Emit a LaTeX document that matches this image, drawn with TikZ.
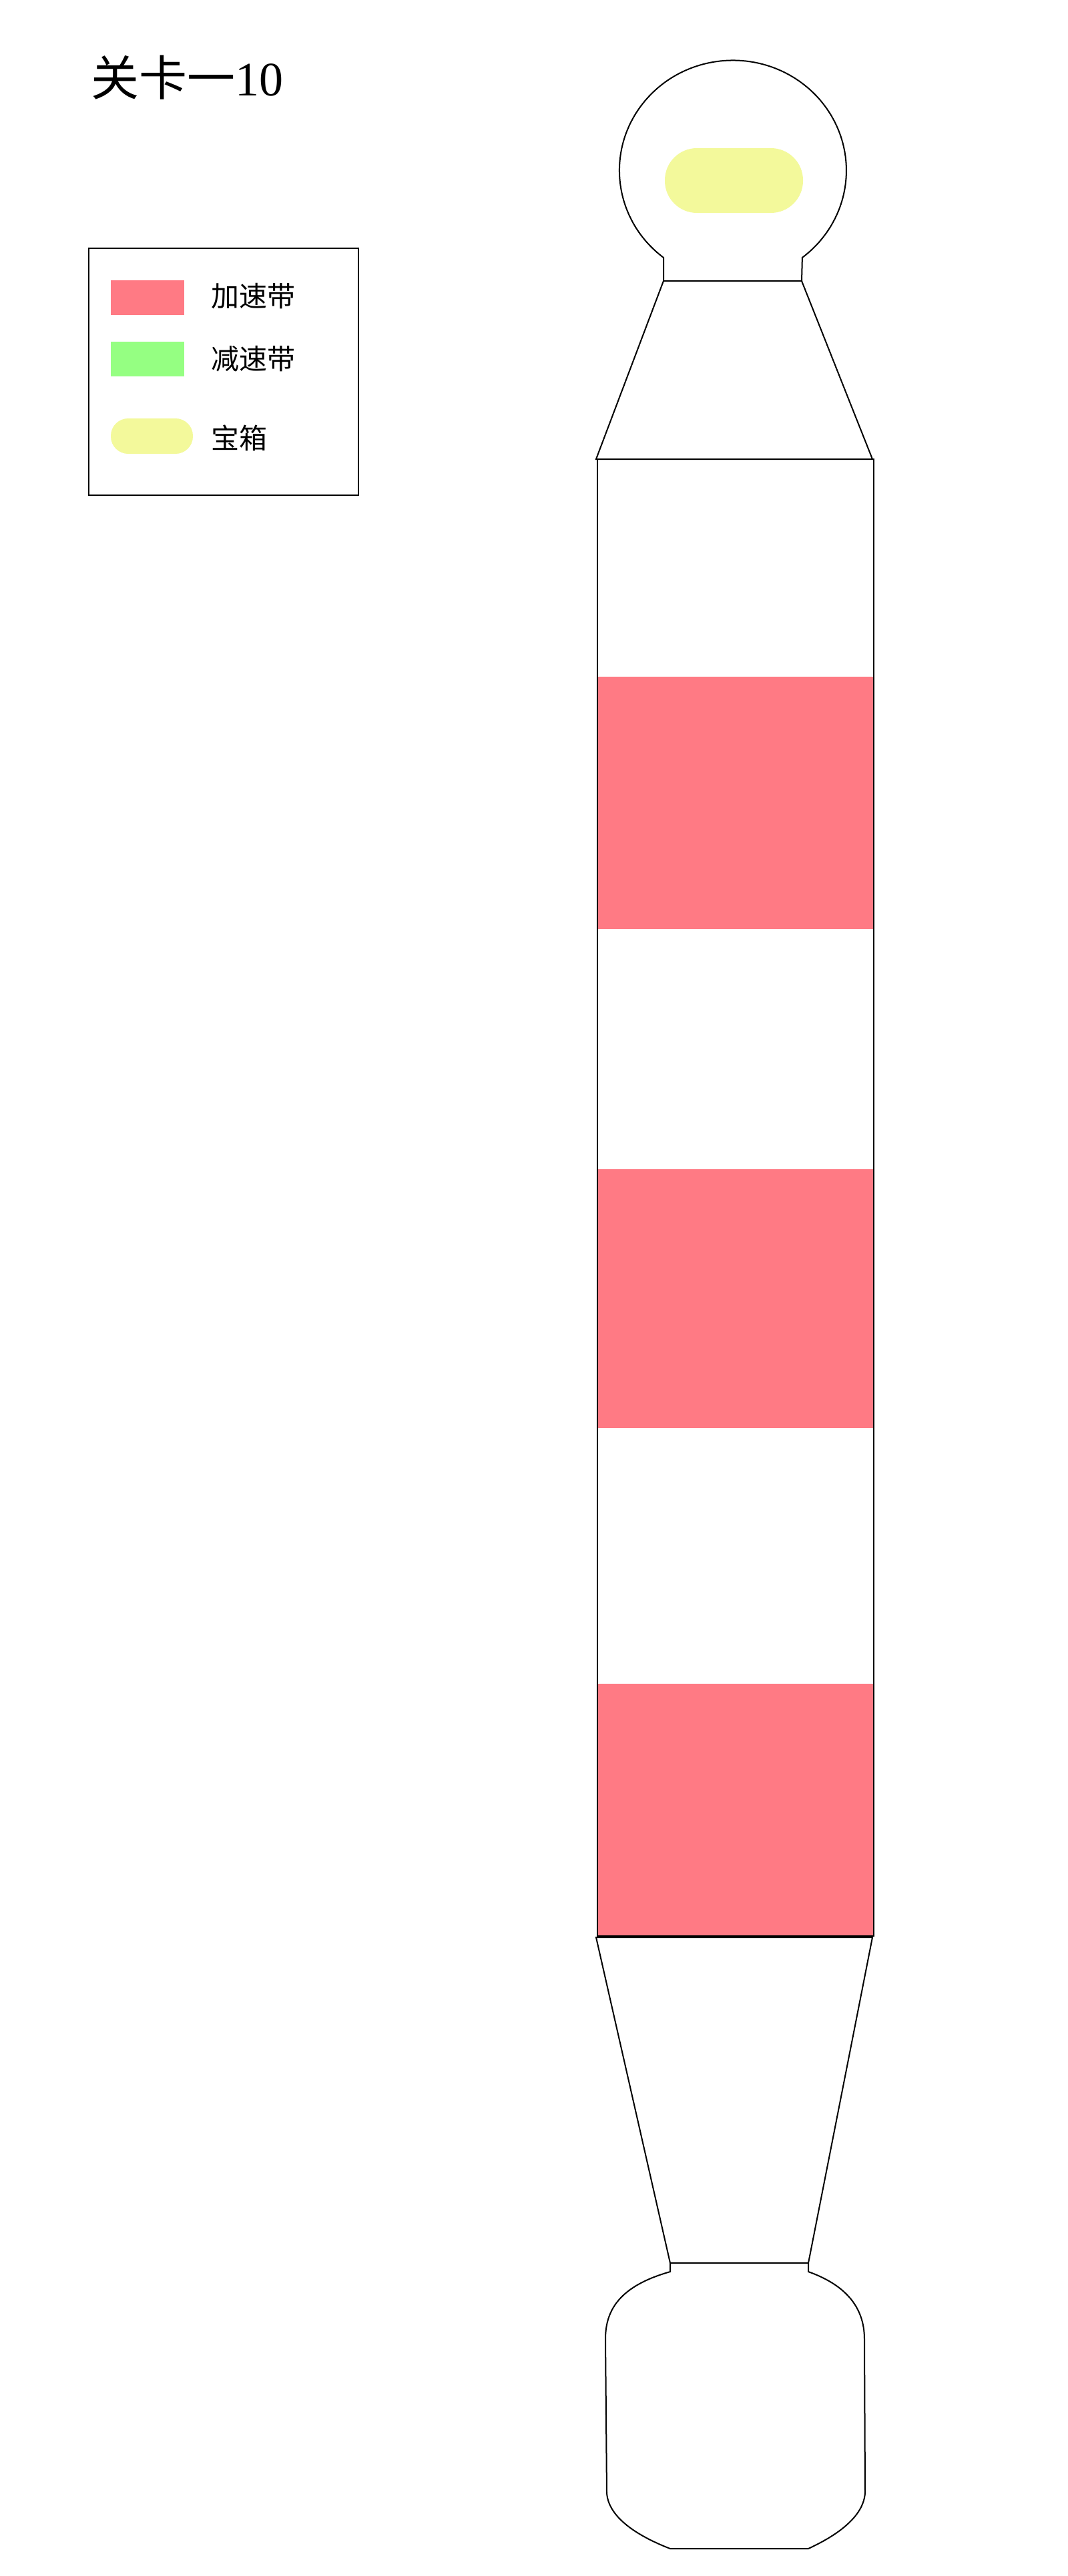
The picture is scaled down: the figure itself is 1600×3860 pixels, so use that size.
\documentclass[tikz,border=0pt]{standalone}
\usepackage{fontspec}
\setmainfont{Liberation Serif}
\newfontfamily\cjk{Noto Sans CJK SC}
\usepackage{xcolor}
\usepackage{tikz}
\usetikzlibrary{positioning}
\definecolor{speedup}{HTML}{FF7A84}
\definecolor{slowdown}{HTML}{95FF82}
\definecolor{chest}{HTML}{F3F99B}

\begin{document}
\begin{tikzpicture}[x=0.5pt,y=-0.5pt,
  outline/.style={draw=black,line width=1pt,line join=miter},
  band/.style={fill=speedup},
  swatch/.style={minimum width=55pt,minimum height=26pt,inner sep=0pt},
  chestpill/.style={fill=chest,minimum width=61.5pt,minimum height=26.5pt,inner sep=0pt,rounded corners=13pt},
  legtext/.style={anchor=west,inner sep=0pt,font=\cjk\fontsize{21}{25}\selectfont}]
  \useasboundingbox[fill=white] (0,0) rectangle (1600,3860);
  % title
  \node[anchor=west,inner sep=0pt,font=\fontsize{36}{40}\selectfont] (title) at (136,116) {{\cjk 关卡一}10};
  % legend
  \node[draw,line width=1pt,minimum width=202pt,minimum height=185pt,inner sep=0pt] (legend) at (335,557) {};
  \node[swatch,fill=speedup] (swfast) at (221,446) {};
  \node[swatch,fill=slowdown] (swslow) at (221,538) {};
  \node[chestpill] (swchest) at (227.5,653.5) {};
  \node[legtext] (lfast) at (316,444) {加速带};
  \node[legtext] (lslow) at (316,538) {减速带};
  \node[legtext] (lchest) at (316,656) {宝箱};
  % head with treasure chest
  \fill[chest,rounded corners=24pt] (996,222) rectangle (1203,319);
  \draw[outline] (994,421) -- (994,386)
    arc[start angle=127.7,end angle=412.3,x radius=170,y radius=165]
    -- (1201,421) -- cycle;
  \draw[outline] (994,421) -- (893,688) -- (1307,688) -- (1201,421);
  % straight track with speed-up bands
  \fill[band] (895,1014) rectangle (1309,1392);
  \fill[band] (895,1752) rectangle (1309,2140);
  \fill[band] (895,2523) rectangle (1309,2901);
  \draw[outline] (895,688) rectangle (1309,2901);
  % narrowing part and foot
  \draw[outline] (893,2903) -- (1307,2903) -- (1211,3391) -- (1004,3391) -- cycle;
  \draw[outline] (1004,3391) -- (1004,3404)
    .. controls (930,3425) and (907,3460) .. (907,3505)
    -- (909,3735)
    .. controls (911,3772) and (955,3800) .. (1004,3819)
    -- (1211,3819)
    .. controls (1252,3800) and (1294,3772) .. (1296,3735)
    -- (1295,3505)
    .. controls (1295,3460) and (1270,3425) .. (1211,3404)
    -- (1211,3391);
\end{tikzpicture}
\end{document}
